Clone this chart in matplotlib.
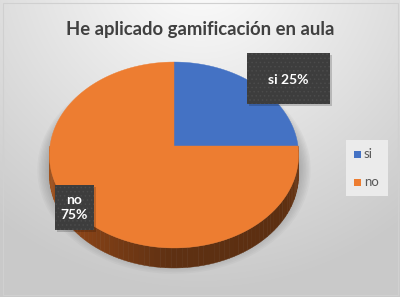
import numpy as np
import matplotlib

matplotlib.use("Agg")
import matplotlib.pyplot as plt
from matplotlib.patches import Polygon, Rectangle

# chart data
title = "He aplicado gamificación en aula"
labels = ["si", "no"]
values = [25, 75]
colors = ["#4472C4", "#ED7D31"]

W, H = 400, 297
CX, CY = 174, 146        # pie apex in pixels
RX = 124                 # half width
A, K = 92.1, -0.0968     # perspective squash
DEPTH = 20


def proj(theta, drop=0.0):
    u, v = np.cos(theta), -np.sin(theta)
    den = 1 + K * v
    return CX + RX * u / den, CY + A * v / den + drop


plt.rcParams["hatch.linewidth"] = 0.6

fig = plt.figure(figsize=(W / 100, H / 100), dpi=100)
ax = fig.add_axes([0, 0, 1, 1])
ax.set_xlim(0, W)
ax.set_ylim(H, 0)
ax.axis("off")

# background gradient
yy, xx = np.mgrid[0:H, 0:W]
d = np.sqrt(((xx - 200) / 330.0) ** 2 + ((yy + 40) / 330.0) ** 2)
t = np.clip(d, 0, 1)
top, bot = np.array([1.0, 1.0, 1.0]), np.array([0.79, 0.79, 0.79])
bg = top[None, None, :] * (1 - t[..., None]) + bot[None, None, :] * t[..., None]
ax.imshow(bg, extent=(0, W, H, 0), zorder=0)
ax.add_patch(Rectangle((2.5, 2.5), W - 5, H - 5, fill=False, ec="#d0d0d0", lw=0.8, zorder=1))

# soft shadow under the pie
th = np.linspace(0, 2 * np.pi, 200)
for grow in np.linspace(12, 0, 9):
    xs, ys = proj(th, DEPTH * 0.5 + 3)
    xs = CX + (xs - CX) * (1 + grow / RX)
    ys = (CY + 8) + (ys - CY - 8) * (1 + grow / 100)
    ax.add_patch(Polygon(np.c_[xs, ys], closed=True, fc="#6a6a6a", ec="none",
                         alpha=0.055, zorder=2))

# side of the pie (front half), shaded strips
side_stops = [(np.pi, "#a8581f"), (1.25 * np.pi, "#8a4417"), (1.5 * np.pi, "#5e3012"),
              (1.8 * np.pi, "#5c2f11"), (2 * np.pi, "#6e3814")]
st_t = [s[0] for s in side_stops]
st_c = np.array([matplotlib.colors.to_rgb(s[1]) for s in side_stops])
edges = np.linspace(np.pi, 2 * np.pi, 80)
for a0, a1 in zip(edges[:-1], edges[1:]):
    seg = np.linspace(a0, a1, 4)
    tx, ty = proj(seg)
    bx, by = proj(seg[::-1], DEPTH)
    mid = 0.5 * (a0 + a1)
    c = [np.interp(mid, st_t, st_c[:, j]) for j in range(3)]
    ax.add_patch(Polygon(np.c_[np.r_[tx, bx], np.r_[ty, by]], closed=True,
                         fc=c, ec=c, lw=0.3, zorder=3))

# top faces of the wedges, clockwise from 12 o'clock
start = np.pi / 2
for val, col in zip(values, colors):
    sweep = 2 * np.pi * val / sum(values)
    arc = np.linspace(start, start - sweep, 120)
    xs, ys = proj(arc)
    ax.add_patch(Polygon(np.c_[np.r_[CX, xs], np.r_[CY, ys]], closed=True,
                         fc=col, ec=col, lw=0.3, zorder=4))
    start -= sweep

# data labels in dark dotted boxes
boxes = [((247, 53, 83, 51), "si 25%", (288.5, 80)),
         ((55, 185, 39, 45), "no\n75%", (74.5, 207.5))]
for (x0, y0, bw, bh), txt, (tx, ty) in boxes:
    ax.add_patch(Rectangle((x0 + 2, y0 + 2), bw, bh, fc="#000000", alpha=0.18, ec="none", zorder=5))
    ax.add_patch(Rectangle((x0, y0), bw, bh, fc="#3d3d3d", ec="none", zorder=6))
    ax.add_patch(Rectangle((x0, y0), bw, bh, fc="none", ec="#4b4b4b", hatch="....",
                           lw=0, zorder=6))
    ax.text(tx, ty, txt, color="white", fontsize=10, fontweight="bold", family="Lato",
            ha="center", va="center", linespacing=1.25, zorder=7)

# legend
ax.add_patch(Rectangle((346, 140), 42, 56, fc="#ebebeb", ec="none", zorder=5))
for i, (lab, col) in enumerate(zip(labels, colors)):
    yc = 154 + i * 28
    ax.add_patch(Rectangle((354, yc - 3.5), 7, 7, fc=col, ec="none", zorder=6))
    ax.text(364, yc, lab, color="#595959", fontsize=9.5, family="Lato",
            ha="left", va="center", zorder=6)

ax.text(200, 29, title, color="#404040", fontsize=13.3, fontweight="bold",
        family="Lato", ha="center", va="center", zorder=6)

fig.savefig("out.png", dpi=100)
